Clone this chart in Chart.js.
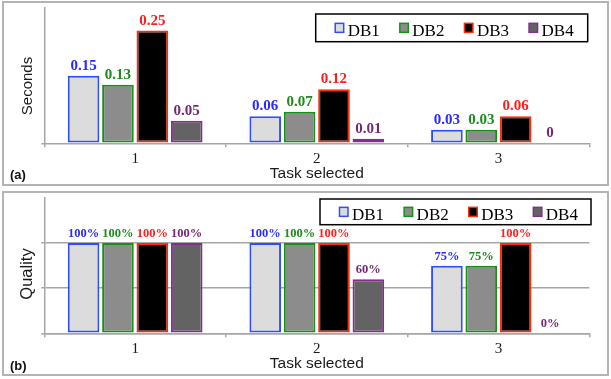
<!DOCTYPE html>
<html>
<head>
<meta charset="utf-8">
<script src="https://cdn.jsdelivr.net/npm/chart.js@4.4.0/dist/chart.umd.min.js"></script>
<style>
  body { margin: 0; background: #fff; width: 611px; height: 379px; position: relative; overflow: hidden; }
  .frame { position: absolute; left: 2px; width: 607px; height: 185px; border: 2px solid #b4b4b4; box-sizing: border-box; }
  canvas { position: absolute; left: 0; }
</style>
</head>
<body>
<div class="frame" style="top:1px"></div>
<div class="frame" style="top:191px"></div>
<canvas id="timeChart" width="611" height="189" style="top:0"></canvas>
<canvas id="qualityChart" width="611" height="189" style="top:190px"></canvas>
<script>
const tasks = ['1', '2', '3'];
const dbNames = ['DB1', 'DB2', 'DB3', 'DB4'];

// execution time (seconds) per task
const secDB1 = [0.15, 0.06, 0.03];
const secDB2 = [0.13, 0.07, 0.03];
const secDB3 = [0.25, 0.12, 0.06];
const secDB4 = [0.05, 0.01, 0];

// answer quality per task (1 = 100%)
const qualDB1 = [1, 1, 0.75];
const qualDB2 = [1, 1, 0.75];
const qualDB3 = [1, 1, 1];
const qualDB4 = [1, 0.6, 0];

const secTicks = [0];
const qualTicks = [0, 0.5, 1];

const fillColors = ['#dcdcdc', '#8c8c8c', '#000000', '#636363'];
const edgeColors = ['#2f4dff', '#17901a', '#ff2a0a', '#80308a'];
const textColors = ['#2a2aff', '#1c8a1c', '#ff1e1e', '#702a72'];
const axisGray = '#a6a6a6';

// value printed above every bar
const valueLabels = {
  id: 'valueLabels',
  afterDatasetsDraw(chart, args, opts) {
    const ctx = chart.ctx;
    ctx.save();
    ctx.font = opts.font;
    ctx.textAlign = 'center';
    ctx.textBaseline = 'alphabetic';
    chart.data.datasets.forEach((ds, i) => {
      chart.getDatasetMeta(i).data.forEach((bar, j) => {
        ctx.fillStyle = textColors[i];
        ctx.fillText(opts.format(ds.data[j]), bar.x, bar.y - 6);
      });
    });
    ctx.restore();
  }
};

// boxed legend sitting inside the plot
const boxLegend = {
  id: 'boxLegend',
  afterDraw(chart, args, opts) {
    const ctx = chart.ctx;
    const { left, top, width, height } = opts;
    ctx.save();
    ctx.fillStyle = '#fff';
    ctx.fillRect(left, top, width, height);
    ctx.strokeStyle = '#000';
    ctx.lineWidth = 1.5;
    ctx.strokeRect(left, top, width, height);
    ctx.font = '17px "Liberation Serif"';
    ctx.textBaseline = 'alphabetic';
    const mid = top + height / 2;
    let x = left + 19.5;
    chart.data.datasets.forEach(ds => {
      ctx.fillStyle = ds.backgroundColor;
      ctx.fillRect(x, mid - 4.5, 8.5, 9);
      ctx.strokeStyle = ds.borderColor;
      ctx.lineWidth = 1.5;
      ctx.strokeRect(x, mid - 4.5, 8.5, 9);
      ctx.fillStyle = '#000';
      ctx.fillText(ds.label, x + 12.5, mid + 8);
      x += 12.5 + ctx.measureText(ds.label).width + 20;
    });
    ctx.restore();
  }
};

// rotated y title and the panel tag in the corner
const sideText = {
  id: 'sideText',
  afterDraw(chart, args, opts) {
    const ctx = chart.ctx;
    ctx.save();
    ctx.fillStyle = '#1a1a1a';
    ctx.font = opts.titleFont;
    ctx.textAlign = 'center';
    ctx.textBaseline = 'middle';
    ctx.translate(opts.titleX, opts.titleY);
    ctx.rotate(-Math.PI / 2);
    ctx.fillText(opts.title, 0, 0);
    ctx.restore();
    ctx.save();
    ctx.fillStyle = '#111';
    ctx.font = 'bold 13px "Liberation Sans"';
    ctx.textBaseline = 'middle';
    ctx.fillText(opts.tag, 10, opts.tagY);
    ctx.restore();
  }
};

function buildChart(id, series, cfg) {
  const ctx = document.getElementById(id).getContext('2d');
  return new Chart(ctx, {
    type: 'bar',
    data: {
      labels: tasks,
      datasets: dbNames.map((name, i) => ({
        label: name,
        data: series[i],
        backgroundColor: fillColors[i],
        borderColor: edgeColors[i],
        borderWidth: 2,
        borderSkipped: false,
        categoryPercentage: 0.757,
        barPercentage: 0.92
      }))
    },
    options: {
      responsive: false,
      animation: false,
      events: [],
      layout: { padding: { left: 0, top: 8, right: 21.7, bottom: 5.5 } },
      scales: {
        x: {
          grid: { drawOnChartArea: false, drawTicks: true, tickLength: 4, color: axisGray, lineWidth: 1.5 },
          border: { color: axisGray, width: 1.5 },
          ticks: { color: '#1a1a1a', padding: 2.5, font: { family: "'Liberation Serif', serif", size: 15 } },
          title: {
            display: true,
            text: 'Task selected',
            color: '#1a1a1a',
            padding: 0,
            font: { family: "'Liberation Sans', sans-serif", size: 15.5 }
          },
          afterFit: s => { s.height = 40.2; }
        },
        y: {
          min: 0,
          max: cfg.yMax,
          afterBuildTicks: s => { s.ticks = cfg.yTicks.map(v => ({ value: v })); },
          grid: { drawOnChartArea: cfg.gridLines, drawTicks: true, tickLength: 3, color: axisGray, lineWidth: 1.5 },
          border: { color: axisGray, width: 1.5 },
          ticks: { display: false },
          afterFit: s => { s.width = 44.3; }
        }
      },
      plugins: {
        legend: { display: false },
        tooltip: { enabled: false },
        valueLabels: { font: cfg.labelFont, format: cfg.format },
        boxLegend: cfg.legendBox,
        sideText: cfg.side
      }
    },
    plugins: [valueLabels, boxLegend, sideText]
  });
}

buildChart('timeChart', [secDB1, secDB2, secDB3, secDB4], {
  yMax: 0.3,
  yTicks: secTicks,
  gridLines: false,
  labelFont: 'bold 15px "Liberation Serif"',
  format: v => String(v),
  legendBox: { left: 315.7, top: 14, width: 272, height: 27.7 },
  side: { title: 'Seconds', titleFont: '15px "Liberation Sans"', titleX: 27.5, titleY: 86, tag: '(a)', tagY: 175.8 }
});

buildChart('qualityChart', [qualDB1, qualDB2, qualDB3, qualDB4], {
  yMax: 1.5,
  yTicks: qualTicks,
  gridLines: true,
  labelFont: 'bold 12.5px "Liberation Serif"',
  format: v => Math.round(v * 100) + '%',
  legendBox: { left: 320, top: 9, width: 271, height: 25.7 },
  side: { title: 'Quality', titleFont: '16.5px "Liberation Sans"', titleX: 27, titleY: 84, tag: '(b)', tagY: 176.7 }
});
</script>
</body>
</html>
